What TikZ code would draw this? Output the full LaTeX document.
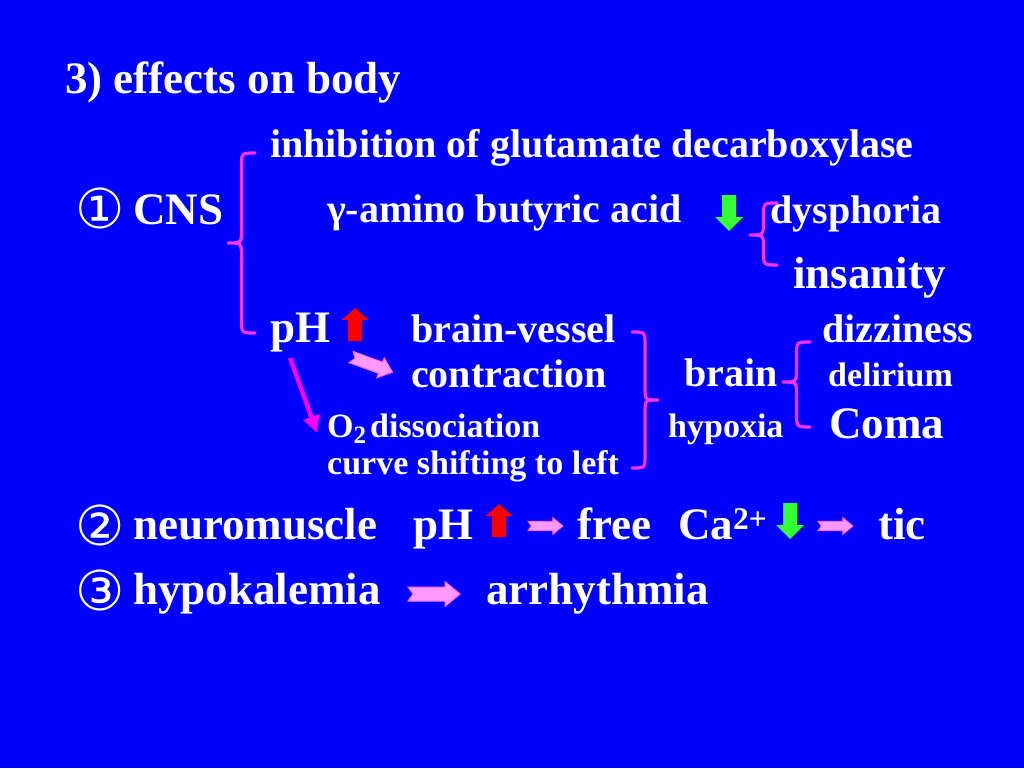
\documentclass[tikz,border=0pt]{standalone}
\usepackage{fontspec}
\setmainfont{Liberation Serif}
\newfontfamily\symfont{DejaVu Sans}
\usetikzlibrary{arrows.meta}
\definecolor{bg}{RGB}{0,0,255}
\definecolor{brc}{RGB}{255,51,255}
\definecolor{pinkf}{RGB}{255,153,255}
\definecolor{pinke}{RGB}{255,102,255}
\definecolor{redf}{RGB}{255,0,0}
\definecolor{greenf}{RGB}{51,255,51}
\definecolor{lineart}{RGB}{255,0,255}
\tikzset{
  txt/.style={text=white, inner sep=0pt, anchor=base west, font=\bfseries\fontsize{#1}{#1}\selectfont},
  sym/.style={text=white, inner sep=0pt, anchor=base west, font=\symfont\fontsize{#1}{#1}\selectfont},
  bracestyle/.style={draw=brc, line width=3.2pt, line cap=round, line join=round},
  notcharrow/.pic={\filldraw[fill=pinkf,draw=pinke,line width=1pt]
     (0,-7) -- (37,-7) -- (37,-12.5) -- (52,0) -- (37,12.5) -- (37,7) -- (0,7) -- (5,0) -- cycle;},
  redup/.pic={\fill[redf] (-7,0) -- (-7,-21) -- (-13.5,-21) -- (0,-33) -- (13.5,-21) -- (7,-21) -- (7,0) -- cycle;},
  greendown/.pic={\fill[greenf] (-7,0) -- (-7,22) -- (-14,22) -- (0,36) -- (14,22) -- (7,22) -- (7,0) -- cycle;},
  linearrow/.style={draw=lineart, line width=4.5pt, -{Triangle[length=17pt,width=16pt]}}
}
\newcommand\mybrace[5]{% cusp-x, arm-x, top, mid, bottom
  \draw[bracestyle] (#2,#3) .. controls ({(#1+#2)/2},#3) .. ({(#1+#2)/2},{#3+abs(#2-#1)/2})
    -- ({(#1+#2)/2},{#4-abs(#2-#1)/2}) .. controls ({(#1+#2)/2},#4) .. (#1,#4)
    .. controls ({(#1+#2)/2},#4) .. ({(#1+#2)/2},{#4+abs(#2-#1)/2})
    -- ({(#1+#2)/2},{#5-abs(#2-#1)/2}) .. controls ({(#1+#2)/2},#5) .. (#2,#5);}
\begin{document}
\begin{tikzpicture}[x=1pt,y=-1pt]
\useasboundingbox (0,0) rectangle (1024,768);
\fill[bg] (0,0) rectangle (1024,768);
% title
\node[txt=45] (title) at (65,93) {3) effects on body};
% CNS block
\node[sym=55] (n1) at (75,228) {①};
\node[txt=45] (cns) at (133,224) {CNS};
\mybrace{228}{255}{153}{243}{333}
\node[txt=40] (inhib) at (270,157) {inhibition of glutamate decarboxylase};
\node[txt=40] (gaba) at (327,222) {γ-amino butyric acid};
\pic at (729,195) {greendown};
\mybrace{750}{777}{203}{235}{265}
\node[txt=40] (dysph) at (770,223) {dysphoria};
\node[txt=45] (insan) at (793,288) {insanity};
\node[txt=45] (ph1) at (270,342) {pH};
\pic at (355,341) {redup};
\pic[rotate=-20, scale=0.85] at (351,357) {notcharrow};
\coordinate (la1) at (290,358);
\coordinate (la2) at (317,433);
\draw[linearrow] (la1) -- (la2);
\node[txt=40] (bv) at (411,342) {brain-vessel};
\node[txt=40] (contr) at (411,387) {contraction};
\node[txt=34] (o2) at (327,437) {O\raisebox{-0.18em}{\fontsize{25}{25}\selectfont 2}\hspace{4pt}dissociation};
\node[txt=34] (curve) at (327,474) {curve shifting to left};
\mybrace{658}{632}{332}{400}{468}
\node[txt=40] (brain) at (684,386) {brain};
\node[txt=34] (hypox) at (668,437) {hypoxia};
\mybrace{783}{810}{342}{382}{427}
\node[txt=40] (dizz) at (822,342) {dizziness};
\node[txt=34] (delir) at (828,386) {delirium};
\node[txt=45] (coma) at (829,438) {Coma};
% row 2
\node[sym=55] (n2) at (75,545) {②};
\node[txt=45] (neuro) at (133,539) {neuromuscle};
\node[txt=45] (ph2) at (413,539) {pH};
\pic at (499,537) {redup};
\pic[scale=0.67] at (528,526) {notcharrow};
\node[txt=45] (free) at (577,539) {free};
\node[txt=45] (ca) at (678,539) {Ca\textsuperscript{2+}};
\pic at (790,503) {greendown};
\pic[scale=0.67] at (818,526) {notcharrow};
\node[txt=45] (tic) at (878,539) {tic};
% row 3
\node[sym=55] (n3) at (75,610) {③};
\node[txt=45] (hypok) at (133,604) {hypokalemia};
\pic at (408,594) {notcharrow};
\node[txt=45] (arrh) at (486,604) {arrhythmia};
\end{tikzpicture}
\end{document}
